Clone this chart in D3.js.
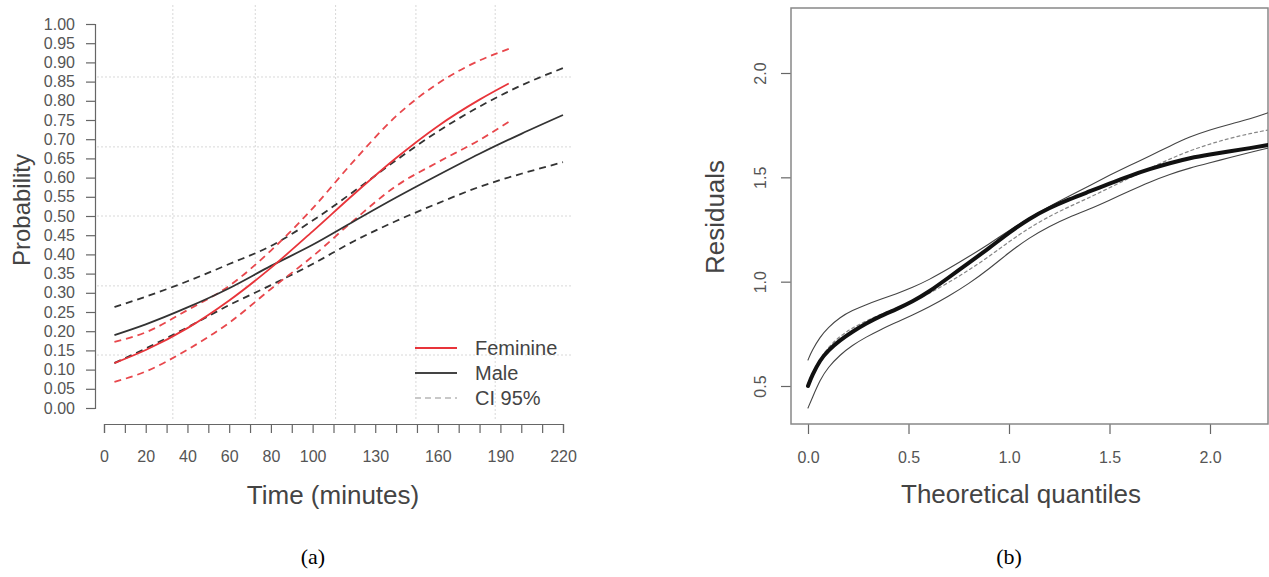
<!DOCTYPE html>
<html>
<head>
<meta charset="utf-8">
<script src="https://cdn.jsdelivr.net/npm/d3@7"></script>
<style>
  body { margin: 0; background: #fff; }
  svg { display: block; font-family: "Liberation Sans", Arial, sans-serif; }
</style>
</head>
<body>
<div id="chart"></div>
<script>
const width = 1269;
const height = 577;

// panel (a): probability over time
const timeTicks = d3.range(0, 221, 10);
const timeLabels = [0, 20, 40, 60, 80, 100, 130, 160, 190, 220];
const probTicks = d3.range(0, 1.0001, 0.05);
const gridTime = [33, 72.5, 111, 149.5, 187.5];
const gridProb = [0.138, 0.318, 0.5, 0.68, 0.862];

const maleTime = [5, 20, 40, 60, 80, 100, 120, 140, 160, 180, 200, 220];
const maleProb = [0.19, 0.218, 0.262, 0.312, 0.37, 0.425, 0.487, 0.548, 0.606, 0.662, 0.714, 0.763];
const maleUpper = [0.263, 0.29, 0.33, 0.375, 0.422, 0.488, 0.565, 0.645, 0.72, 0.785, 0.84, 0.885];
const maleLower = [0.117, 0.155, 0.21, 0.268, 0.32, 0.375, 0.435, 0.487, 0.533, 0.576, 0.61, 0.64];

const femTime = [5, 20, 40, 60, 80, 100, 120, 140, 160, 180, 194];
const femProb = [0.117, 0.151, 0.208, 0.28, 0.365, 0.46, 0.558, 0.651, 0.734, 0.803, 0.845];
const femUpper = [0.172, 0.197, 0.255, 0.318, 0.41, 0.52, 0.645, 0.76, 0.845, 0.905, 0.935];
const femLower = [0.068, 0.095, 0.152, 0.222, 0.31, 0.395, 0.49, 0.578, 0.64, 0.698, 0.745];

const legendItems = ["Feminine", "Male", "CI 95%"];

// panel (b): residual Q-Q plot
const quantTicks = [0, 0.5, 1, 1.5, 2];
const residTicks = [0.5, 1, 1.5, 2];
const quantiles = [0, 0.02, 0.06, 0.1, 0.16, 0.22, 0.29, 0.36, 0.44, 0.52, 0.6, 0.7, 0.8, 0.9,
  1.0, 1.1, 1.2, 1.3, 1.4, 1.5, 1.6, 1.7, 1.8, 1.9, 2.0, 2.1, 2.2, 2.29];
const residuals = [0.5, 0.55, 0.625, 0.67, 0.72, 0.76, 0.8, 0.835, 0.868, 0.905, 0.95, 1.02, 1.09, 1.16,
  1.235, 1.302, 1.353, 1.395, 1.432, 1.47, 1.507, 1.54, 1.568, 1.593, 1.61, 1.625, 1.64, 1.655];
const envUpper = [0.625, 0.67, 0.735, 0.78, 0.83, 0.862, 0.89, 0.915, 0.942, 0.972, 1.008, 1.062, 1.12, 1.18,
  1.245, 1.305, 1.36, 1.41, 1.46, 1.51, 1.557, 1.602, 1.65, 1.695, 1.728, 1.755, 1.78, 1.81];
const envLower = [0.395, 0.44, 0.53, 0.59, 0.65, 0.695, 0.735, 0.77, 0.805, 0.84, 0.877, 0.93, 0.99, 1.06,
  1.14, 1.21, 1.265, 1.31, 1.347, 1.39, 1.435, 1.478, 1.515, 1.545, 1.57, 1.595, 1.62, 1.64];
const envMid = [0.51, 0.55, 0.63, 0.685, 0.74, 0.778, 0.812, 0.843, 0.873, 0.906, 0.942, 0.996, 1.055, 1.12,
  1.192, 1.257, 1.313, 1.36, 1.403, 1.45, 1.497, 1.543, 1.588, 1.628, 1.66, 1.688, 1.71, 1.727];

const svg = d3.select("#chart")
  .append("svg")
  .attr("width", width)
  .attr("height", height);

svg.append("rect")
  .attr("width", width)
  .attr("height", height)
  .attr("fill", "white");

// ---------- panel (a) ----------
const xL = d3.scaleLinear().domain([0, 220]).range([104, 563]);
const yL = d3.scaleLinear().domain([0, 1]).range([408, 24]);

const gA = svg.append("g");

gA.selectAll(".vgrid")
  .data(gridTime)
  .enter().append("line")
  .attr("x1", d => xL(d))
  .attr("x2", d => xL(d))
  .attr("y1", 5)
  .attr("y2", 420)
  .attr("stroke", "#d8d8d8")
  .attr("stroke-dasharray", "2,2");

gA.selectAll(".hgrid")
  .data(gridProb)
  .enter().append("line")
  .attr("x1", 97)
  .attr("x2", 573)
  .attr("y1", d => yL(d))
  .attr("y2", d => yL(d))
  .attr("stroke", "#d8d8d8")
  .attr("stroke-dasharray", "2,2");

const xAxisL = d3.axisBottom(xL)
  .tickValues(timeTicks)
  .tickSize(9)
  .tickPadding(18)
  .tickFormat(d => timeLabels.includes(d) ? d : "");

const yAxisL = d3.axisLeft(yL)
  .tickValues(probTicks)
  .tickSize(9)
  .tickPadding(11)
  .tickFormat(d3.format(".2f"));

function styleAxis(sel) {
  sel.selectAll("path, line").attr("stroke", "#666").attr("stroke-width", 1.2);
  sel.selectAll("text").attr("fill", "#555").style("font-size", "16px");
}

gA.append("g")
  .attr("transform", "translate(0,424)")
  .call(xAxisL)
  .call(styleAxis);

gA.append("g")
  .attr("transform", "translate(95,0)")
  .call(yAxisL)
  .call(styleAxis);

gA.append("text")
  .attr("x", 333)
  .attr("y", 504)
  .attr("text-anchor", "middle")
  .attr("fill", "#444")
  .style("font-size", "26px")
  .text("Time (minutes)");

gA.append("text")
  .attr("transform", "translate(30,210) rotate(-90)")
  .attr("text-anchor", "middle")
  .attr("fill", "#444")
  .style("font-size", "24px")
  .text("Probability");

const lineL = d3.line()
  .x(d => xL(d[0]))
  .y(d => yL(d[1]))
  .curve(d3.curveMonotoneX);

const curvesA = [
  { t: maleTime, p: maleLower, color: "#333", dash: "7,5" },
  { t: maleTime, p: maleUpper, color: "#333", dash: "7,5" },
  { t: femTime, p: femUpper, color: "#e8474c", dash: "7,5" },
  { t: femTime, p: femLower, color: "#e8474c", dash: "7,5" },
  { t: maleTime, p: maleProb, color: "#333", dash: null },
  { t: femTime, p: femProb, color: "#e8343a", dash: null }
];

gA.selectAll(".curve")
  .data(curvesA)
  .enter().append("path")
  .attr("class", "curve")
  .attr("d", d => lineL(d.t.map((t, i) => [t, d.p[i]])))
  .attr("fill", "none")
  .attr("stroke", d => d.color)
  .attr("stroke-width", 1.8)
  .attr("stroke-dasharray", d => d.dash);

const legendStyles = [
  { color: "#e8343a", dash: null },
  { color: "#444", dash: null },
  { color: "#c8c8c8", dash: "6,4" }
];

const legend = gA.selectAll(".legend-item")
  .data(legendItems)
  .enter().append("g")
  .attr("class", "legend-item")
  .attr("transform", (d, i) => `translate(415,${348 + i * 25})`);

legend.append("line")
  .attr("x1", 0)
  .attr("x2", 42)
  .attr("stroke", (d, i) => legendStyles[i].color)
  .attr("stroke-width", 1.8)
  .attr("stroke-dasharray", (d, i) => legendStyles[i].dash);

legend.append("text")
  .attr("x", 60)
  .attr("dy", "0.36em")
  .attr("fill", "#444")
  .style("font-size", "20px")
  .text(d => d);

svg.append("text")
  .attr("x", 313)
  .attr("y", 564)
  .attr("text-anchor", "middle")
  .style("font-family", "'Liberation Serif', 'Times New Roman', serif")
  .style("font-size", "22px")
  .text("(a)");

// ---------- panel (b) ----------
const xR = d3.scaleLinear().domain([0, 2]).range([808, 1210]);
const yR = d3.scaleLinear().domain([0.5, 2]).range([386, 73]);
const box = { x0: 791, x1: 1268, y0: 8, y1: 424 };

const gB = svg.append("g");

svg.append("defs").append("clipPath")
  .attr("id", "clipB")
  .append("rect")
  .attr("x", box.x0)
  .attr("y", box.y0)
  .attr("width", box.x1 - box.x0)
  .attr("height", box.y1 - box.y0);

const xAxisR = d3.axisBottom(xR)
  .tickValues(quantTicks)
  .tickSize(10)
  .tickPadding(18)
  .tickFormat(d3.format(".1f"));

const yAxisR = d3.axisLeft(yR)
  .tickValues(residTicks)
  .tickSize(10)
  .tickFormat(d3.format(".1f"));

gB.append("g")
  .attr("transform", `translate(0,${box.y1})`)
  .call(xAxisR)
  .call(styleAxis)
  .call(g => g.select(".domain").remove());

const yAxG = gB.append("g")
  .attr("transform", `translate(${box.x0},0)`)
  .call(yAxisR)
  .call(styleAxis)
  .call(g => g.select(".domain").remove());

yAxG.selectAll(".tick text")
  .attr("x", null)
  .attr("dy", null)
  .attr("text-anchor", "middle")
  .attr("transform", "translate(-31,0) rotate(-90)")
  .attr("dominant-baseline", "central");

gB.append("rect")
  .attr("x", box.x0)
  .attr("y", box.y0)
  .attr("width", box.x1 - box.x0)
  .attr("height", box.y1 - box.y0)
  .attr("fill", "none")
  .attr("stroke", "#888")
  .attr("stroke-width", 1.5);

gB.append("text")
  .attr("x", 1021)
  .attr("y", 503)
  .attr("text-anchor", "middle")
  .attr("fill", "#444")
  .style("font-size", "26px")
  .text("Theoretical quantiles");

gB.append("text")
  .attr("transform", "translate(724,217) rotate(-90)")
  .attr("text-anchor", "middle")
  .attr("fill", "#444")
  .style("font-size", "26px")
  .text("Residuals");

const lineR = d3.line()
  .x(d => xR(d[0]))
  .y(d => yR(d[1]))
  .curve(d3.curveBasis);

const curvesB = [
  { v: envMid, color: "#888", width: 1.2, dash: "3,3" },
  { v: envUpper, color: "#444", width: 1.1, dash: null },
  { v: envLower, color: "#444", width: 1.1, dash: null },
  { v: residuals, color: "#111", width: 4, dash: null }
];

gB.append("g")
  .attr("clip-path", "url(#clipB)")
  .selectAll("path")
  .data(curvesB)
  .enter().append("path")
  .attr("d", d => lineR(quantiles.map((q, i) => [q, d.v[i]])))
  .attr("fill", "none")
  .attr("stroke", d => d.color)
  .attr("stroke-width", d => d.width)
  .attr("stroke-dasharray", d => d.dash)
  .attr("stroke-linecap", "round");

svg.append("text")
  .attr("x", 1009)
  .attr("y", 564)
  .attr("text-anchor", "middle")
  .style("font-family", "'Liberation Serif', 'Times New Roman', serif")
  .style("font-size", "22px")
  .text("(b)");
</script>
</body>
</html>
